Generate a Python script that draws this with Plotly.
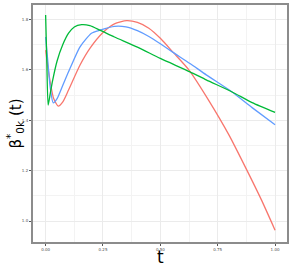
import plotly.graph_objects as go

t_red = [0.0, 0.01, 0.02, 0.035, 0.055, 0.075, 0.1, 0.15, 0.193, 0.25, 0.30, 0.353, 0.40, 0.45, 0.50, 0.557, 0.625, 0.71, 0.80, 0.877, 0.94, 1.0]
v_red = [1.678, 1.61, 1.552, 1.486, 1.456, 1.473, 1.52, 1.619, 1.685, 1.748, 1.782, 1.795, 1.788, 1.765, 1.725, 1.668, 1.599, 1.48, 1.34, 1.202, 1.085, 0.964]

t_blue = [0.0, 0.01, 0.02, 0.033, 0.05, 0.075, 0.1, 0.15, 0.2, 0.237, 0.30, 0.35, 0.40, 0.45, 0.50, 0.557, 0.629, 0.70, 0.811, 0.90, 1.0]
v_blue = [1.73, 1.63, 1.53, 1.469, 1.486, 1.539, 1.592, 1.691, 1.745, 1.757, 1.772, 1.77, 1.755, 1.732, 1.703, 1.668, 1.625, 1.58, 1.513, 1.45, 1.382]

t_green = [0.0, 0.005, 0.011, 0.02, 0.03, 0.05, 0.075, 0.1, 0.125, 0.157, 0.193, 0.237, 0.30, 0.40, 0.50, 0.629, 0.70, 0.811, 0.90, 1.0]
v_green = [1.817, 1.64, 1.46, 1.505, 1.555, 1.635, 1.70, 1.745, 1.77, 1.779, 1.775, 1.757, 1.73, 1.69, 1.645, 1.592, 1.56, 1.513, 1.47, 1.431]

x_ticks = [0.0, 0.25, 0.5, 0.75, 1.0]
x_labels = ["0.00", "0.25", "0.50", "0.75", "1.00"]
y_ticks = [1.0, 1.2, 1.4, 1.6, 1.8]
y_labels = ["1.0", "1.2", "1.4", "1.6", "1.8"]

fig = go.Figure()
for t, v, c in [(t_red, v_red, "#F8766D"), (t_blue, v_blue, "#619CFF"), (t_green, v_green, "#00BA38")]:
    fig.add_trace(go.Scatter(x=t, y=v, mode="lines", line=dict(color=c, width=1.3, shape="spline", smoothing=0.6),
                             showlegend=False, hoverinfo="skip"))

axis_common = dict(showline=True, mirror=True, linecolor="#8c8c8c", linewidth=2,
                   gridcolor="#EBEBEB", gridwidth=1, zeroline=False, automargin=False,
                   ticks="outside", ticklen=2, tickcolor="#555555", tickwidth=1,
                   tickfont=dict(size=4, color="#4d4d4d", family="DejaVu Sans"))

fig.update_layout(
    width=291, height=267,
    margin=dict(l=33, r=4, t=5, b=25),
    paper_bgcolor="white", plot_bgcolor="white",
    xaxis=dict(range=[-0.055, 1.052], tickvals=x_ticks, ticktext=x_labels,
               minor=dict(tickvals=[0.125, 0.375, 0.625, 0.875], showgrid=True, gridcolor="#F3F3F3", ticks=""),
               **axis_common),
    yaxis=dict(range=[0.917, 1.857], tickvals=y_ticks, ticktext=y_labels,
               minor=dict(tickvals=[1.1, 1.3, 1.5, 1.7], showgrid=True, gridcolor="#F3F3F3", ticks=""),
               **axis_common),
    annotations=[
        dict(text="t", xref="paper", yref="paper", x=0.5, y=-0.063, xanchor="center", yanchor="middle",
             showarrow=False, font=dict(size=17, family="DejaVu Sans", color="black")),
        dict(text="β<sup>*</sup><sub>0k</sub> (t)", xref="paper", yref="paper", x=-0.071, y=0.5,
             xanchor="center", yanchor="middle", textangle=-90,
             showarrow=False, font=dict(size=15, family="DejaVu Sans", color="black")),
    ],
)

fig.write_html("out.html", config={"displayModeBar": False},
               post_script="document.body.style.margin='0';document.body.style.padding='0';")
